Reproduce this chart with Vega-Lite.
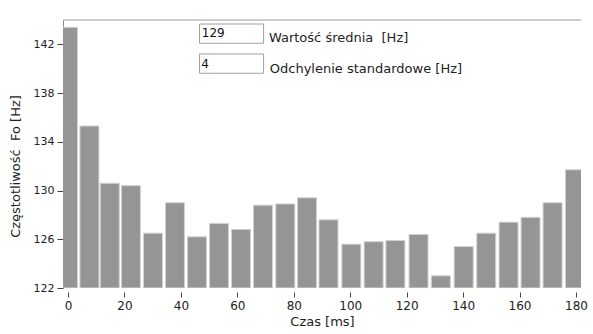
{
  "$schema": "https://vega.github.io/schema/vega-lite/v6.json",
  "width": 518,
  "height": 268,
  "autosize": {"type": "none"},
  "padding": {"left": 63, "top": 20, "right": 12, "bottom": 46},
  "background": "white",
  "config": {
    "font": "DejaVu Sans",
    "view": {"stroke": null},
    "axis": {"grid": false, "labelFont": "DejaVu Sans", "titleFont": "DejaVu Sans", "labelFontSize": 12, "titleFontSize": 13, "labelColor": "#222222", "titleColor": "#222222", "titleFontWeight": "normal", "tickColor": "#444444", "domainColor": "#8a8a8a", "labelOverlap": false}
  },
  "layer": [
    {
      "data": {"values": [{}]},
      "mark": {"type": "rule", "color": "#9a9a9a", "strokeWidth": 1},
      "encoding": {"y": {"datum": 144, "type": "quantitative", "scale": {"domain": [122, 144], "nice": false, "zero": false},
          "axis": {"title": "Częstotliwość\u00a0 Fo [Hz]", "values": [122, 124, 126, 128, 130, 132, 134, 136, 138, 140, 142, 144], "tickSize": 6, "labelPadding": 3, "labelFontSize": 11, "titleX": -41, "titleY": 146, "labelOverlap": false, "labelBound": false, "labelFlush": false}}}
    },
    {
      "data": {"values": [
        {"t": 0, "f": 143.4},
        {"t": 7.6, "f": 135.3},
        {"t": 14.8, "f": 130.6},
        {"t": 22.3, "f": 130.4},
        {"t": 30.1, "f": 126.5},
        {"t": 37.9, "f": 129.0},
        {"t": 45.7, "f": 126.2},
        {"t": 53.5, "f": 127.3},
        {"t": 61.3, "f": 126.8},
        {"t": 69.1, "f": 128.8},
        {"t": 77.0, "f": 128.9},
        {"t": 84.7, "f": 129.4},
        {"t": 92.3, "f": 127.6},
        {"t": 100.4, "f": 125.6},
        {"t": 108.3, "f": 125.8},
        {"t": 116.0, "f": 125.9},
        {"t": 124.2, "f": 126.4},
        {"t": 132.1, "f": 123.0},
        {"t": 140.2, "f": 125.4},
        {"t": 148.2, "f": 126.5},
        {"t": 156.1, "f": 127.4},
        {"t": 163.9, "f": 127.8},
        {"t": 171.7, "f": 129.0},
        {"t": 179.6, "f": 131.7}
      ]},
      "mark": {"type": "bar", "size": 19, "color": "#959595", "stroke": "#d2d2d2", "strokeWidth": 1, "clip": true},
      "encoding": {
        "x": {"field": "t", "type": "quantitative", "scale": {"domain": [0, 180], "nice": false, "zero": false},
          "axis": {"title": "Czas [ms]", "values": [0, 20, 40, 60, 80, 100, 120, 140, 160, 180], "domain": false, "offset": 4, "tickSize": 5, "labelPadding": 3, "titlePadding": 4}},
        "y": {"field": "f", "type": "quantitative",
          "axis": {"title": "Częstotliwość\u00a0 Fo [Hz]", "values": [122, 124, 126, 128, 130, 132, 134, 136, 138, 140, 142, 144], "tickSize": 6, "labelPadding": 3, "labelFontSize": 11, "titleX": -41, "titleY": 146, "labelOverlap": false, "labelBound": false, "labelFlush": false}},
        "y2": {"datum": 122}
      }
    },
    {
      "data": {"values": [{}]},
      "mark": {"type": "rect", "fill": "white", "stroke": "#a0a0a0", "strokeWidth": 1},
      "encoding": {"x": {"datum": 46.6}, "x2": {"datum": 69.3}, "y": {"datum": 143.67}, "y2": {"datum": 142.09}}
    },
    {
      "data": {"values": [{}]},
      "mark": {"type": "rect", "fill": "white", "stroke": "#a0a0a0", "strokeWidth": 1},
      "encoding": {"x": {"datum": 46.6}, "x2": {"datum": 69.3}, "y": {"datum": 141.21}, "y2": {"datum": 139.63}}
    },
    {
      "data": {"values": [{}]},
      "mark": {"type": "text", "align": "left", "baseline": "middle", "fontSize": 12, "color": "#111111"},
      "encoding": {"x": {"datum": 47.4}, "y": {"datum": 142.9}, "text": {"value": "129"}}
    },
    {
      "data": {"values": [{}]},
      "mark": {"type": "text", "align": "left", "baseline": "middle", "fontSize": 12, "color": "#111111"},
      "encoding": {"x": {"datum": 47.2}, "y": {"datum": 140.4}, "text": {"value": "4"}}
    },
    {
      "data": {"values": [{}]},
      "mark": {"type": "text", "align": "left", "baseline": "middle", "fontSize": 13, "color": "#222222"},
      "encoding": {"x": {"datum": 71.2}, "y": {"datum": 142.55}, "text": {"value": "Wartość średnia\u00a0 [Hz]"}}
    },
    {
      "data": {"values": [{}]},
      "mark": {"type": "text", "align": "left", "baseline": "middle", "fontSize": 13, "color": "#222222"},
      "encoding": {"x": {"datum": 71.5}, "y": {"datum": 139.95}, "text": {"value": "Odchylenie standardowe [Hz]"}}
    }
  ]
}
